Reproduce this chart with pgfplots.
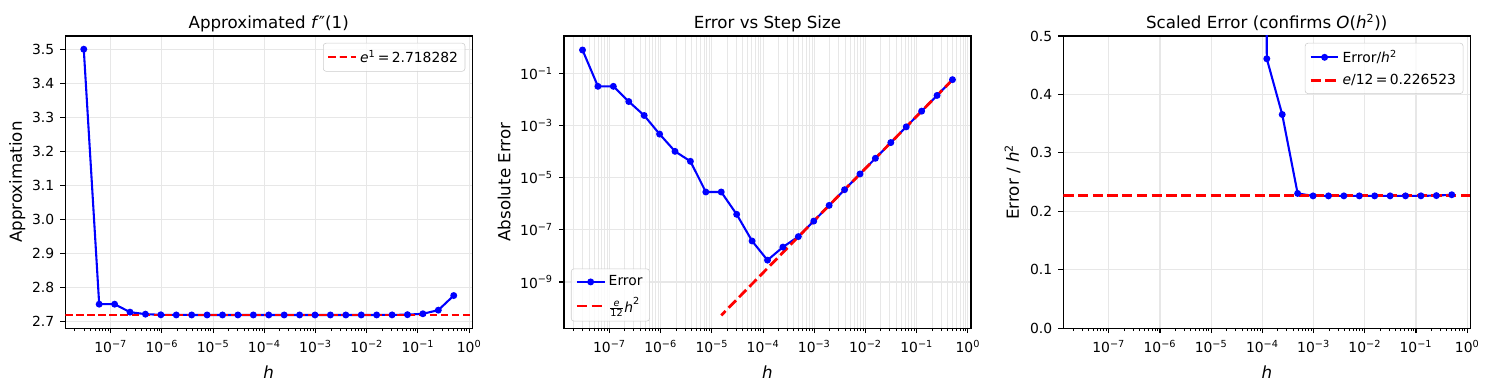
\documentclass[border=0pt]{standalone}
\usepackage{amsmath}
\usepackage{pgfplots}
\usepackage{pgfplotstable}
\pgfplotsset{compat=1.18}
\usepackage{fontspec}
\setmainfont{DejaVu Sans}

\definecolor{mplblue}{rgb}{0,0,1}
\definecolor{mplred}{rgb}{1,0,0}
\definecolor{gridc}{HTML}{E7E7E7}
\definecolor{legc}{HTML}{CCCCCC}

\pgfplotstableread{
h approx err scaled
0.5 2.775389 0.057107 0.228428
0.25 2.732469 0.014187 0.226992
0.125 2.721823 0.0035413 0.226643
0.0625 2.719167 8.8497e-4 0.226552
0.03125 2.718503 2.2122e-4 0.226529
0.015625 2.718337 5.5305e-5 0.226529
0.0078125 2.718296 1.3826e-5 0.226524
0.00390625 2.718285 3.4566e-6 0.226531
0.001953125 2.718283 8.641e-7 0.226519
9.765625e-4 2.718282 2.16e-7 0.22649
4.8828125e-4 2.718282 5.5e-8 0.2307
2.44140625e-4 2.718282 2.18e-8 0.3657
1.220703125e-4 2.718282 6.87e-9 0.4610
6.103515625e-5 2.718282 3.73e-8 10.01
3.0517578125e-5 2.718282 3.93e-7 422
1.52587890625e-5 2.718285 2.82e-6 12113
7.62939453125e-6 2.718285 2.82e-6 48450
3.814697265625e-6 2.718324 4.23e-5 2.907e6
1.9073486328125e-6 2.718384 1.02e-4 2.80e7
9.5367431640625e-7 2.718750 4.68e-4 5.15e8
4.76837158203125e-7 2.720703 2.42e-3 1.064e10
2.384185791015625e-7 2.726563 8.28e-3 1.457e11
1.1920928955078125e-7 2.750000 0.0317 2.23e12
5.960464477539063e-8 2.750000 0.0317 8.92e12
2.9802322387695312e-8 3.500000 0.7817 8.80e14
}\data

\pgfplotstableread{
h ref
0.5 0.0566309
0.25 0.0141577
0.125 0.00353943
0.0625 8.84857e-4
0.03125 2.21214e-4
0.015625 5.53036e-5
0.0078125 1.38259e-5
0.00390625 3.45647e-6
0.001953125 8.64118e-7
9.765625e-4 2.16030e-7
4.8828125e-4 5.40074e-8
2.44140625e-4 1.35019e-8
1.220703125e-4 3.37546e-9
6.103515625e-5 8.43866e-10
3.0517578125e-5 2.10966e-10
1.52587890625e-5 5.27416e-11
}\refline

\pgfplotsset{
  legend image code/.code={\draw[mark repeat=2,mark phase=2,#1] plot coordinates {(0pt,0pt) (10pt,0pt) (20pt,0pt)};},
  every axis/.append style={
    scale only axis, width=293pt, height=210.5pt,
    tick align=outside, xtick pos=left, ytick pos=left,
    major tick length=3.5pt, minor tick length=2pt,
    tick label style={font=\fontsize{10}{12}\selectfont},
    xticklabel style={yshift=-1.5pt},
    yticklabel style={xshift=-1pt},
    label style={font=\fontsize{12}{14}\selectfont},
    xlabel style={yshift=-2.5pt},
  },
  every major tick/.append style={line width=0.8pt, black},
  every minor tick/.append style={line width=0.6pt, black},
  every axis legend/.append style={draw=legc, rounded corners=2pt, fill=white, fill opacity=0.8, text opacity=1,
      draw opacity=1, font=\fontsize{10}{12}\selectfont, inner xsep=3pt, inner ysep=3pt,
      cells={anchor=west}, row sep=3pt},
}

\begin{document}
\begin{tikzpicture}
\path[use as bounding box] (-47pt,-44.4pt) rectangle (1025.1pt,236.4pt);

\begin{axis}[at={(0pt,0pt)}, anchor=south west,
  xmode=log, xmin=1.297e-8, xmax=1.148,
  xtick={1e-7,1e-6,1e-5,1e-4,1e-3,1e-2,1e-1,1},
  xticklabels={10\textsuperscript{−7},10\textsuperscript{−6},10\textsuperscript{−5},10\textsuperscript{−4},10\textsuperscript{−3},10\textsuperscript{−2},10\textsuperscript{−1},10\textsuperscript{0}},
  minor xtick={2e-8,3e-8,4e-8,5e-8,6e-8,7e-8,8e-8,9e-8,2e-7,3e-7,4e-7,5e-7,6e-7,7e-7,8e-7,9e-7,2e-6,3e-6,4e-6,5e-6,6e-6,7e-6,8e-6,9e-6,2e-5,3e-5,4e-5,5e-5,6e-5,7e-5,8e-5,9e-5,2e-4,3e-4,4e-4,5e-4,6e-4,7e-4,8e-4,9e-4,2e-3,3e-3,4e-3,5e-3,6e-3,7e-3,8e-3,9e-3,2e-2,3e-2,4e-2,5e-2,6e-2,7e-2,8e-2,9e-2,2e-1,3e-1,4e-1,5e-1,6e-1,7e-1,8e-1,9e-1},
  axis line style={line width=0.8pt},
  grid=major, major grid style={line width=0.8pt, gridc},
  ymin=2.679, ymax=3.539,
  ytick={2.7,2.8,2.9,3.0,3.1,3.2,3.3,3.4,3.5},
  yticklabels={2.7,2.8,2.9,3.0,3.1,3.2,3.3,3.4,3.5},
  title={Approximated \textit{f}″(1)},
  title style={font=\fontsize{12}{14}\selectfont, anchor=base, yshift=-0.5pt},
  xlabel={\textit{h}},
  ylabel={Approximation},
  ylabel style={yshift=-2pt},
  legend style={at={(1,1)}, anchor=north east, xshift=-5pt, yshift=-5pt},
]
\addplot[mplblue, line width=1.5pt, mark=*, mark size=1.7pt, mark options={solid, fill=mplblue, draw=mplblue}, forget plot] table[x=h, y=approx] {\data};
\addplot[mplred, line width=1.5pt, dash pattern=on 5.55pt off 2.4pt] coordinates {(1.297e-8,2.718282) (1.148,2.718282)};
\addlegendentry{\textit{e}\textsuperscript{1}\,=\,2.718282}
\end{axis}

\begin{axis}[at={(359.1pt,0pt)}, anchor=south west,
  xmode=log, xmin=1.297e-8, xmax=1.148,
  xtick={1e-7,1e-6,1e-5,1e-4,1e-3,1e-2,1e-1,1},
  xticklabels={10\textsuperscript{−7},10\textsuperscript{−6},10\textsuperscript{−5},10\textsuperscript{−4},10\textsuperscript{−3},10\textsuperscript{−2},10\textsuperscript{−1},10\textsuperscript{0}},
  minor xtick={2e-8,3e-8,4e-8,5e-8,6e-8,7e-8,8e-8,9e-8,2e-7,3e-7,4e-7,5e-7,6e-7,7e-7,8e-7,9e-7,2e-6,3e-6,4e-6,5e-6,6e-6,7e-6,8e-6,9e-6,2e-5,3e-5,4e-5,5e-5,6e-5,7e-5,8e-5,9e-5,2e-4,3e-4,4e-4,5e-4,6e-4,7e-4,8e-4,9e-4,2e-3,3e-3,4e-3,5e-3,6e-3,7e-3,8e-3,9e-3,2e-2,3e-2,4e-2,5e-2,6e-2,7e-2,8e-2,9e-2,2e-1,3e-1,4e-1,5e-1,6e-1,7e-1,8e-1,9e-1},
  axis line style={line width=0.8pt},
  grid=both, major grid style={line width=0.8pt, gridc}, minor grid style={line width=0.6pt, gridc},
  ymode=log, ymin=1.675e-11, ymax=2.70,
  ytick={1e-9,1e-7,1e-5,1e-3,1e-1},
  yticklabels={10\textsuperscript{−9},10\textsuperscript{−7},10\textsuperscript{−5},10\textsuperscript{−3},10\textsuperscript{−1}},
  minor ytick={},
  title={Error vs Step Size},
  title style={font=\fontsize{12}{14}\selectfont, anchor=base, yshift=-0.5pt},
  xlabel={\textit{h}},
  ylabel={Absolute Error},
  legend style={at={(0,0)}, anchor=south west, xshift=5pt, yshift=5pt},
]
\addplot[mplblue, line width=1.5pt, mark=*, mark size=1.7pt, mark options={solid, fill=mplblue, draw=mplblue}] table[x=h, y=err] {\data};
\addlegendentry{Error}
\addplot[mplred, line width=2pt, dash pattern=on 7.4pt off 3.2pt] table[x=h, y=ref] {\refline};
\addlegendentry{$\frac{\text{\textit{e}}}{\text{12}}\text{\textit{h}}^{\text{2}}$}
\end{axis}

\begin{axis}[at={(718.6pt,0pt)}, anchor=south west,
  xmode=log, xmin=1.297e-8, xmax=1.148,
  xtick={1e-7,1e-6,1e-5,1e-4,1e-3,1e-2,1e-1,1},
  xticklabels={10\textsuperscript{−7},10\textsuperscript{−6},10\textsuperscript{−5},10\textsuperscript{−4},10\textsuperscript{−3},10\textsuperscript{−2},10\textsuperscript{−1},10\textsuperscript{0}},
  minor xtick={2e-8,3e-8,4e-8,5e-8,6e-8,7e-8,8e-8,9e-8,2e-7,3e-7,4e-7,5e-7,6e-7,7e-7,8e-7,9e-7,2e-6,3e-6,4e-6,5e-6,6e-6,7e-6,8e-6,9e-6,2e-5,3e-5,4e-5,5e-5,6e-5,7e-5,8e-5,9e-5,2e-4,3e-4,4e-4,5e-4,6e-4,7e-4,8e-4,9e-4,2e-3,3e-3,4e-3,5e-3,6e-3,7e-3,8e-3,9e-3,2e-2,3e-2,4e-2,5e-2,6e-2,7e-2,8e-2,9e-2,2e-1,3e-1,4e-1,5e-1,6e-1,7e-1,8e-1,9e-1},
  axis line style={line width=0.8pt},
  grid=major, major grid style={line width=0.8pt, gridc},
  ymin=0, ymax=0.5,
  ytick={0,0.1,0.2,0.3,0.4,0.5},
  yticklabels={0.0,0.1,0.2,0.3,0.4,0.5},
  title={Scaled Error (confirms \textit{O}(\textit{h}\textsuperscript{2}))},
  title style={font=\fontsize{12}{14}\selectfont, anchor=base, yshift=-0.5pt},
  xlabel={\textit{h}},
  ylabel={Error / \textit{h}\textsuperscript{2}},
  legend style={at={(1,1)}, anchor=north east, xshift=-5pt, yshift=-5pt},
  restrict y to domain=-1:100, unbounded coords=jump,
]
\addplot[mplblue, line width=1.5pt, mark=*, mark size=1.7pt, mark options={solid, fill=mplblue, draw=mplblue}] table[x=h, y=scaled] {\data};
\addlegendentry{Error/\textit{h}\textsuperscript{2}}
\addplot[mplred, line width=2pt, dash pattern=on 7.4pt off 3.2pt] coordinates {(1.297e-8,0.226523) (1.148,0.226523)};
\addlegendentry{\textit{e}/12\,=\,0.226523}
\end{axis}
\end{tikzpicture}
\end{document}
